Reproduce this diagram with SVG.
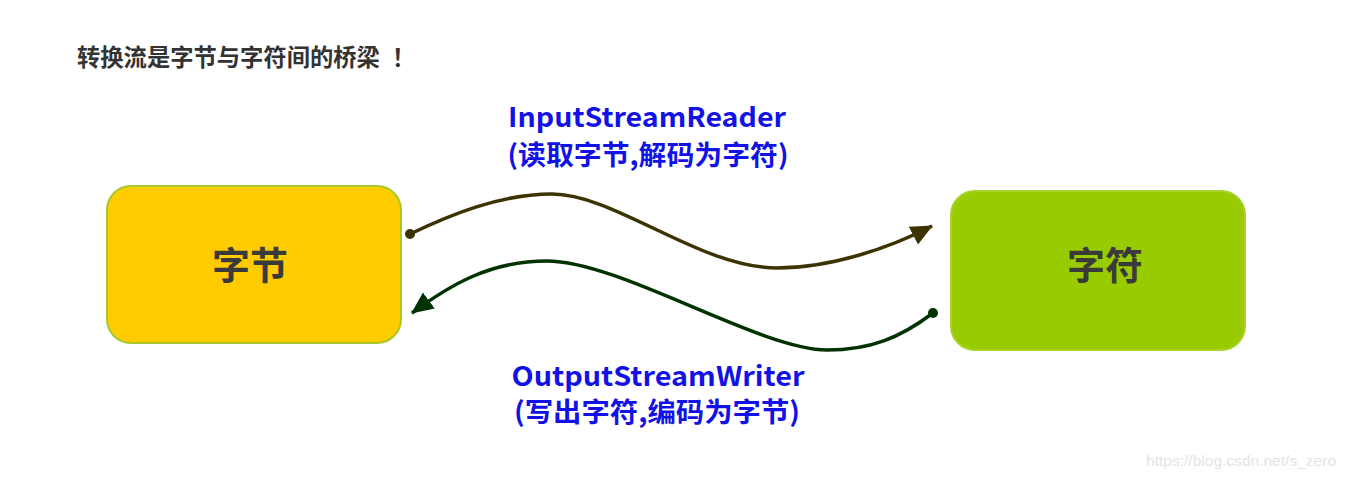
<svg xmlns="http://www.w3.org/2000/svg" width="1347" height="479" viewBox="0 0 1347 479">
<style>
.cjk{font-family:"Noto Sans CJK SC","Noto Sans",sans-serif;font-weight:bold}
.title{font-size:23.3px;fill:#333333}
.node{font-size:38px;fill:#3a3a3a;text-anchor:middle}
.lbl{font-size:27px;fill:#1212e6;text-anchor:middle}
.wm{font-family:"Liberation Sans",Arial,sans-serif;font-size:15.5px;fill:#e4e4e4}
.conn{fill:none;stroke-width:3.5}
</style>
<defs>
<marker id="arrTop" markerUnits="userSpaceOnUse" markerWidth="24" markerHeight="22" refX="21" refY="10" orient="auto">
<path d="M0,0 L22,10 L0,20 Z" fill="#3b3300"/>
</marker>
<marker id="arrBot" markerUnits="userSpaceOnUse" markerWidth="24" markerHeight="22" refX="21" refY="10" orient="auto">
<path d="M0,0 L22,10 L0,20 Z" fill="#003300"/>
</marker>
</defs>
<rect width="1347" height="479" fill="#ffffff"/>
<text class="cjk title" x="77" y="66">转换流是字节与字符间的桥梁<tspan x="392">！</tspan></text>
<g id="node-bytes">
<rect x="107" y="186" width="294" height="157" rx="24" ry="24" fill="#ffcc00" stroke="#a8c828" stroke-width="2"/>
<text class="cjk node" x="250" y="279">字节</text>
</g>
<g id="node-chars">
<rect x="951" y="191" width="294" height="159" rx="24" ry="24" fill="#99cc00" stroke="#a6d22a" stroke-width="2"/>
<text class="cjk node" x="1105" y="279">字符</text>
</g>
<g id="connectors">
<path class="conn" stroke="#3b3300" d="M410,234 C450,215 500,194 552,194 C615,194 700,268 777,268 C830,268 890,248 932,226" marker-end="url(#arrTop)"/>
<circle cx="410" cy="234" r="5" fill="#3b3300"/>
<path class="conn" stroke="#003300" d="M933,313 C900,338 870,350 827,350 C760,350 620,261 547,261 C490,261 450,285 412,313" marker-end="url(#arrBot)"/>
<circle cx="933" cy="313" r="5" fill="#003300"/>
</g>
<g id="labels">
<text class="cjk lbl" x="647" y="127" textLength="278" lengthAdjust="spacingAndGlyphs">InputStreamReader</text>
<text class="cjk lbl" x="648" y="165" textLength="281" lengthAdjust="spacingAndGlyphs">(读取字节,解码为字符)</text>
<text class="cjk lbl" x="658" y="386" textLength="293" lengthAdjust="spacingAndGlyphs">OutputStreamWriter</text>
<text class="cjk lbl" x="657" y="422" textLength="286" lengthAdjust="spacingAndGlyphs">(写出字符,编码为字节)</text>
</g>
<text class="wm" x="1146" y="466" textLength="190">https://blog.csdn.net/s_zero</text>
</svg>
